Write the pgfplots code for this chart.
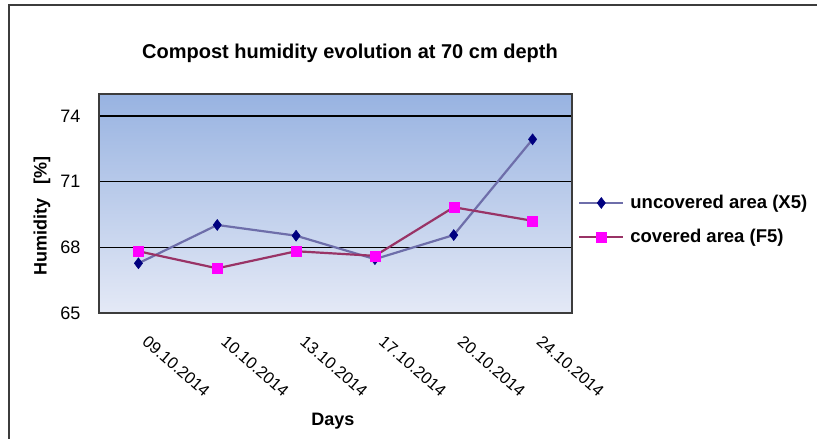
\documentclass[border=0pt]{standalone}
\usepackage{pgfplots}
\pgfplotsset{compat=1.18}
\usepackage{fontspec}
\setmainfont{Liberation Sans}
\definecolor{bgtop}{RGB}{152,179,225}
\definecolor{bgbot}{RGB}{228,233,246}
\definecolor{unc}{RGB}{110,110,170}
\definecolor{uncm}{RGB}{0,0,128}
\definecolor{cov}{RGB}{153,51,102}
\definecolor{covm}{RGB}{255,0,255}
\definecolor{frame}{RGB}{60,60,60}
\begin{document}
\begin{tikzpicture}
\path[use as bounding box] (0pt,0pt) rectangle (817pt,-439pt);
\draw[frame,line width=1.5pt] (9pt,-439pt) -- (9pt,-5pt) -- (817pt,-5pt);
\node[font=\fontsize{20}{23}\selectfont\bfseries] at (350pt,-53pt) {Compost humidity evolution at 70 cm depth};
\node[font=\fontsize{18}{21}\selectfont\bfseries] at (333pt,-421pt) {Days};
\node[font=\fontsize{18}{21}\selectfont\bfseries,rotate=90] at (42pt,-216pt) {Humidity\hspace{14pt}[\%]};
\begin{axis}[
  at={(99pt,-313pt)}, anchor=south west,
  width=473pt, height=219pt, scale only axis,
  xmin=-0.5, xmax=5.5, ymin=65, ymax=75,
  xtick={0,1,2,3,4,5},
  xticklabels={09.10.2014,10.10.2014,13.10.2014,17.10.2014,20.10.2014,24.10.2014},
  ytick={65,68,71,74},
  major tick length=0pt,
  ymajorgrids,
  grid style={black,line width=1.2pt},
  axis line style={frame,line width=1.2pt},
  axis background/.style={shade,top color=bgtop,bottom color=bgbot},
  tick label style={font=\fontsize{18}{21}\selectfont},
  /pgf/number format/assume math mode=true,
  yticklabel style={xshift=-15pt},
  xticklabel style={font=\fontsize{16.5}{19}\selectfont,xshift=4pt,yshift=-24pt,rotate=-41,anchor=west},
  legend style={at={(1,0.425)},anchor=west,draw=none,fill=none,inner sep=0pt,
     font=\fontsize{18.5}{21}\selectfont\bfseries,row sep=15pt,xshift=6pt,
     nodes={inner xsep=6pt}},
  legend cell align=left,
  legend image code/.code={\draw[mark repeat=2,mark phase=2] plot coordinates {(0pt,0pt) (22pt,0pt) (44pt,0pt)};},
]
\addplot[unc,line width=2.2pt,mark=diamond*,mark size=5.5pt,mark options={uncm,fill=uncm,line width=0.5pt}]
 coordinates {(0,67.27) (1,69.02) (2,68.53) (3,67.46) (4,68.56) (5,72.93)};
\addlegendentry{uncovered area (X5)}
\addplot[cov,line width=2.2pt,mark=square*,mark size=5pt,mark options={covm,fill=covm,line width=0.5pt}]
 coordinates {(0,67.82) (1,67.04) (2,67.82) (3,67.61) (4,69.83) (5,69.21)};
\addlegendentry{covered area (F5)}
\end{axis}
\end{tikzpicture}
\end{document}
